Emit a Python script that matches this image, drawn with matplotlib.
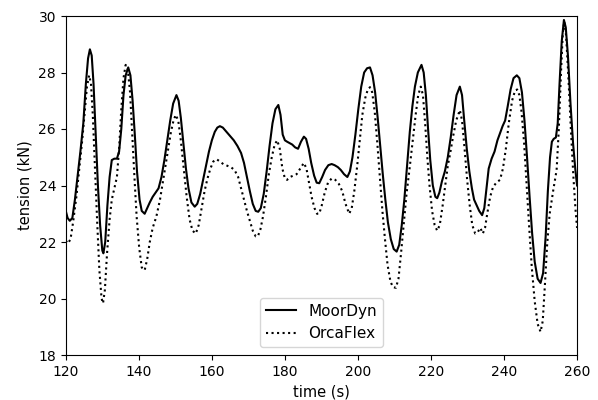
import matplotlib
matplotlib.use("Agg")
import matplotlib.pyplot as plt

# MoorDyn tension (solid line)
t_moordyn = [120.0, 120.5, 121.1, 121.8, 122.5, 123.2, 124.0, 124.8, 125.5, 126.1,
             126.6, 127.1, 127.6, 128.2, 128.8, 129.4, 130.0, 130.3, 130.8, 131.4,
             132.0, 132.6, 133.3, 134.0, 134.6, 135.2, 135.8, 136.4, 137.1, 137.7,
             138.3, 138.9, 139.5, 140.2, 140.8, 141.6, 142.3, 143.0, 143.8, 144.6,
             145.4, 146.2, 147.0, 147.8, 148.6, 149.4, 150.3, 150.9, 151.5, 152.2,
             152.9, 153.6, 154.4, 155.3, 156.0, 156.8, 157.6, 158.4, 159.2, 160.0,
             160.8, 161.5, 162.2, 163.0, 164.0, 165.0, 166.0, 167.0, 168.0, 168.8,
             169.6, 170.4, 171.2, 172.0, 172.7, 173.4, 174.2, 175.0, 175.8, 176.6,
             177.4, 178.2, 178.8, 179.4, 180.0, 180.6, 181.3, 182.0, 182.8, 183.6,
             184.4, 185.2, 185.8, 186.5, 187.2, 188.0, 188.7, 189.4, 190.2, 191.0,
             191.9, 192.8, 193.6, 194.5, 195.3, 196.2, 197.1, 197.8, 198.5, 199.3,
             200.1, 200.9, 201.7, 202.5, 203.3, 204.0, 204.7, 205.4, 206.1, 206.8,
             207.5, 208.2, 209.0, 209.8, 210.6, 211.3, 212.0, 212.7, 213.4, 214.2,
             214.9, 215.6, 216.4, 217.4, 218.0, 218.6, 219.2, 219.8, 220.5, 221.2,
             221.7, 222.3, 223.0, 223.8, 224.6, 225.4, 226.2, 227.0, 227.9, 228.5,
             229.1, 229.8, 230.5, 231.2, 231.8, 232.5, 233.2, 234.0, 234.6, 235.2,
             235.8, 236.6, 237.4, 238.2, 238.9, 239.6, 240.3, 241.0, 241.8, 242.6,
             243.5, 244.2, 244.9, 245.6, 246.3, 247.0, 247.7, 248.4, 249.2, 250.0,
             250.7, 251.4, 252.0, 252.6, 253.1, 253.6, 254.2, 254.7, 255.2, 255.8,
             256.4, 256.9, 257.5, 258.2, 258.9, 259.5, 260.0]
y_moordyn = [23.1, 22.85, 22.75, 22.85, 23.5, 24.3, 25.2, 26.2, 27.6, 28.5,
             28.82, 28.6, 27.6, 25.8, 24.0, 22.6, 21.7, 21.6, 22.0, 23.3,
             24.3, 24.9, 24.95, 24.95, 25.2, 26.0, 27.2, 27.9, 28.18, 27.9,
             27.0, 25.8, 24.5, 23.5, 23.1, 23.0, 23.2, 23.4, 23.6, 23.75,
             23.9, 24.3, 24.9, 25.6, 26.3, 26.9, 27.2, 27.0, 26.4, 25.5,
             24.6, 23.9, 23.4, 23.25, 23.35, 23.7, 24.2, 24.7, 25.2, 25.6,
             25.9, 26.05, 26.1, 26.05, 25.9, 25.75, 25.6, 25.4, 25.15, 24.8,
             24.3, 23.8, 23.35, 23.1, 23.07, 23.2, 23.7, 24.5, 25.4, 26.2,
             26.7, 26.85, 26.5, 25.8, 25.6, 25.55, 25.5, 25.45, 25.35, 25.3,
             25.55, 25.73, 25.65, 25.3, 24.8, 24.35, 24.1, 24.08, 24.3, 24.55,
             24.72, 24.76, 24.72, 24.65, 24.55, 24.4, 24.3, 24.5, 25.0, 25.8,
             26.7, 27.5, 28.0, 28.15, 28.18, 27.9, 27.3, 26.4, 25.4, 24.4,
             23.5, 22.7, 22.1, 21.75, 21.66, 21.9, 22.6, 23.5, 24.6, 25.9,
             26.8, 27.5, 28.0, 28.27, 28.0, 27.2, 26.0, 24.9, 24.0, 23.6,
             23.55, 23.75, 24.15, 24.5, 25.0, 25.7, 26.5, 27.2, 27.5, 27.2,
             26.3, 25.3, 24.5, 23.9, 23.5, 23.3, 23.1, 22.95, 23.2, 23.9,
             24.6, 24.95, 25.2, 25.6, 25.85, 26.1, 26.3, 26.8, 27.4, 27.8,
             27.9, 27.8, 27.3, 26.3, 25.0, 23.6, 22.3, 21.3, 20.7, 20.55,
             20.9, 22.2, 23.8, 25.0, 25.55, 25.65, 25.7, 26.2, 27.6, 29.1,
             29.86, 29.6, 28.6, 26.9, 25.5, 24.6, 24.0]

# OrcaFlex tension (dotted line)
t_orcaflex = [120.0, 120.6, 121.3, 122.0, 122.9, 123.7, 124.5, 125.2, 125.8, 126.4,
              126.9, 127.4, 128.0, 128.6, 129.2, 129.8, 130.2, 130.7, 131.3, 132.0,
              132.6, 133.3, 134.0, 134.6, 135.2, 135.8, 136.4, 137.0, 137.6, 138.2,
              138.8, 139.4, 140.1, 140.8, 141.6, 142.3, 143.0, 143.8, 144.8, 145.8,
              146.8, 147.8, 148.8, 149.5, 150.1, 150.8, 151.5, 152.3, 153.1, 153.9,
              154.7, 155.6, 156.4, 157.2, 158.0, 158.8, 159.6, 160.4, 161.3, 162.2,
              163.2, 164.2, 165.2, 166.2, 167.2, 168.0, 168.8, 169.6, 170.4, 171.2,
              172.0, 172.6, 173.3, 174.0, 174.8, 175.6, 176.4, 177.2, 177.9, 178.6,
              179.3, 180.0, 180.6, 181.4, 182.3, 183.2, 184.2, 185.2, 185.9, 186.6,
              187.3, 188.1, 188.8, 189.4, 190.1, 190.9, 191.8, 192.8, 193.8, 194.8,
              195.7, 196.6, 197.6, 198.3, 199.0, 199.8, 200.5, 201.2, 202.0, 202.7,
              203.3, 203.9, 204.6, 205.3, 206.0, 206.7, 207.4, 208.1, 208.9, 209.6,
              210.4, 211.1, 211.8, 212.5, 213.3, 214.2, 215.0, 215.8, 216.5, 217.2,
              217.8, 218.4, 219.0, 219.6, 220.3, 221.0, 221.7, 222.4, 223.2, 224.0,
              224.6, 225.2, 226.0, 226.9, 227.9, 228.5, 229.2, 229.9, 230.6, 231.3,
              232.1, 232.8, 233.5, 234.2, 234.8, 235.4, 236.2, 237.0, 237.9, 238.9,
              239.7, 240.5, 241.3, 242.2, 243.0, 243.6, 244.2, 244.8, 245.5, 246.2,
              246.9, 247.6, 248.4, 249.2, 250.0, 250.6, 251.2, 251.8, 252.5, 253.5,
              254.4, 255.0, 255.6, 256.1, 256.5, 257.0, 257.6, 258.3, 259.0, 259.6,
              260.0]
y_orcaflex = [22.05, 21.95, 22.1, 22.7, 23.6, 24.6, 25.6, 26.6, 27.5, 27.9,
              27.6, 26.5, 24.6, 22.7, 21.0, 20.0, 19.83, 20.3, 21.6, 22.8,
              23.5, 23.9, 24.3, 25.3, 26.7, 27.8, 28.27, 28.1, 27.3, 25.8,
              24.3, 22.9, 21.8, 21.1, 21.0, 21.4, 22.0, 22.5, 22.9, 23.5,
              24.3, 25.1, 25.9, 26.3, 26.5, 26.3, 25.6, 24.6, 23.6, 22.8,
              22.4, 22.3, 22.6, 23.2, 23.8, 24.25, 24.6, 24.85, 24.93, 24.85,
              24.75, 24.7, 24.65, 24.55, 24.3, 23.9, 23.5, 23.1, 22.75, 22.4,
              22.2, 22.2, 22.45, 22.9, 23.6, 24.4, 25.0, 25.45, 25.6, 25.3,
              24.6, 24.25, 24.2, 24.3, 24.35, 24.4, 24.6, 24.8, 24.6, 24.1,
              23.6, 23.2, 23.0, 23.0, 23.3, 23.75, 24.1, 24.25, 24.2, 24.05,
              23.8, 23.35, 23.0, 23.2, 23.8, 24.7, 25.6, 26.5, 27.1, 27.4,
              27.48, 27.3, 26.6, 25.5, 24.3, 23.1, 22.1, 21.2, 20.6, 20.4,
              20.38, 20.7, 21.6, 22.6, 23.7, 24.67, 25.6, 26.5, 27.2, 27.5,
              27.2, 26.2, 25.0, 24.0, 23.1, 22.6, 22.4, 22.6, 23.3, 24.1,
              24.7, 25.1, 25.7, 26.3, 26.67, 26.3, 25.3, 24.2, 23.3, 22.6,
              22.3, 22.35, 22.5, 22.3, 22.5, 23.0, 23.6, 23.95, 24.1, 24.2,
              24.6, 25.3, 26.2, 27.0, 27.35, 27.4, 27.2, 26.6, 25.5, 24.0,
              22.5, 21.1, 19.9, 19.1, 18.82, 19.2, 20.5, 21.9, 23.0, 23.85,
              24.55, 26.0, 28.0, 29.4, 29.8, 29.3, 27.9, 26.0, 24.3, 23.1,
              22.5]

fig = plt.figure(figsize=(5.98, 4.0), dpi=100)
ax = fig.add_axes([0.110, 0.1125, 0.855, 0.8475])

ax.plot(t_moordyn, y_moordyn, color='black', linestyle='-', linewidth=1.5, label='MoorDyn')
ax.plot(t_orcaflex, y_orcaflex, color='black', linestyle=':', linewidth=1.5, label='OrcaFlex')

ax.set_xlim(120, 260)
ax.set_ylim(18, 30)
ax.set_xticks(range(120, 261, 20))
ax.set_yticks(range(18, 31, 2))
ax.set_xlabel('time (s)', fontsize=10.5)
ax.set_ylabel('tension (kN)', fontsize=10.5)
ax.legend(loc='lower center', fontsize=11)

fig.savefig('out.png', dpi=100)
